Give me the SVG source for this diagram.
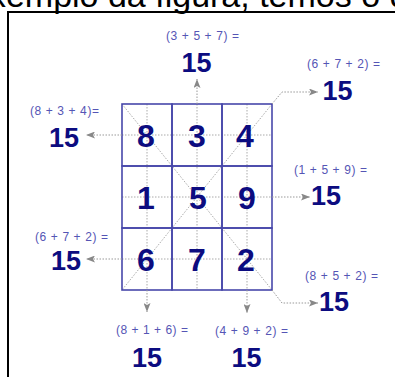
<svg xmlns="http://www.w3.org/2000/svg" width="395" height="377" viewBox="0 0 395 377">
<defs>
<marker id="ah" markerUnits="userSpaceOnUse" viewBox="0 0 9 7" refX="9" refY="3.5" markerWidth="9" markerHeight="7" orient="auto">
<path d="M0,0 L9,3.5 L0,7 L2,3.5 z" fill="#888"/>
</marker>
<style>
.bg{fill:#fff}
.frame{fill:none;stroke:#000;stroke-width:2}
.cell{fill:none;stroke:#4848aa;stroke-width:1.6}
.dot{fill:none;stroke:#aaa;stroke-width:1;stroke-dasharray:1.5 1.5}
.arr{fill:none;stroke:#999;stroke-width:1;stroke-dasharray:1.5 1.5;marker-end:url(#ah)}
.num{font-family:"Liberation Sans",Arial,sans-serif;font-weight:bold;font-size:32px;fill:#0c0c80;text-anchor:middle}
.tot{font-family:"Liberation Sans",Arial,sans-serif;font-weight:bold;font-size:27px;fill:#0c0c80;text-anchor:middle}
.sum{font-family:"Liberation Sans",Arial,sans-serif;font-size:12px;fill:#5555b5}
.top{font-family:"Liberation Sans",Arial,sans-serif;font-size:34px;fill:#000}
</style>
</defs>
<rect class="bg" x="0" y="0" width="395" height="377"/>
<text class="top" x="-30" y="7">exemplo da figura, temos o q</text>
<path class="frame" d="M8,380 V12 H400"/>

<g id="guides">
<path class="dot" d="M147,104 V290 M197,104 V290 M247,104 V290 M122,135 H272 M122,197 H272 M122,259 H272 M122,104 L272,290 M272,104 L122,290"/>
</g>

<g id="cells">
<g id="c8"><rect class="cell" x="122" y="104" width="50" height="62"/><text class="num" x="146" y="147">8</text></g>
<g id="c3"><rect class="cell" x="172" y="104" width="50" height="62"/><text class="num" x="197" y="147">3</text></g>
<g id="c4"><rect class="cell" x="222" y="104" width="50" height="62"/><text class="num" x="245" y="147">4</text></g>
<g id="c1"><rect class="cell" x="122" y="166" width="50" height="62"/><text class="num" x="146" y="209">1</text></g>
<g id="c5"><rect class="cell" x="172" y="166" width="50" height="62"/><text class="num" x="198" y="209">5</text></g>
<g id="c9"><rect class="cell" x="222" y="166" width="50" height="62"/><text class="num" x="247" y="209">9</text></g>
<g id="c6"><rect class="cell" x="122" y="228" width="50" height="62"/><text class="num" x="146" y="271">6</text></g>
<g id="c7"><rect class="cell" x="172" y="228" width="50" height="62"/><text class="num" x="197" y="271">7</text></g>
<g id="c2"><rect class="cell" x="222" y="228" width="50" height="62"/><text class="num" x="246" y="271">2</text></g>
</g>

<g id="connectors">
<path class="arr" d="M197,104 V79"/>
<path class="arr" d="M122,135 H86"/>
<path class="arr" d="M272,197 H310"/>
<path class="arr" d="M122,259 H86"/>
<path class="arr" d="M147,290 V312"/>
<path class="arr" d="M247,290 V313"/>
<path class="arr" d="M272,104 L282,92 H318"/>
<path class="arr" d="M272,290 L282,303 H318"/>
</g>

<g id="l-top"><text class="sum" x="166" y="39.5" textLength="73" lengthAdjust="spacing">(3 + 5 + 7) =</text><text class="tot" x="196.5" y="72">15</text></g>
<g id="l-diag1"><text class="sum" x="307" y="68" textLength="73" lengthAdjust="spacing">(6 + 7 + 2) =</text><text class="tot" x="337.5" y="100">15</text></g>
<g id="l-row1"><text class="sum" x="30" y="114.5" textLength="69" lengthAdjust="spacing">(8 + 3 + 4)=</text><text class="tot" x="64" y="147">15</text></g>
<g id="l-row2"><text class="sum" x="294" y="174" textLength="73" lengthAdjust="spacing">(1 + 5 + 9) =</text><text class="tot" x="326" y="205">15</text></g>
<g id="l-row3"><text class="sum" x="35" y="241" textLength="73" lengthAdjust="spacing">(6 + 7 + 2) =</text><text class="tot" x="66" y="270">15</text></g>
<g id="l-diag2"><text class="sum" x="305" y="280" textLength="73" lengthAdjust="spacing">(8 + 5 + 2) =</text><text class="tot" x="334" y="311">15</text></g>
<g id="l-col1"><text class="sum" x="116" y="334" textLength="72" lengthAdjust="spacing">(8 + 1 + 6) =</text><text class="tot" x="147" y="367">15</text></g>
<g id="l-col3"><text class="sum" x="215" y="334.5" textLength="73" lengthAdjust="spacing">(4 + 9 + 2) =</text><text class="tot" x="246.5" y="367">15</text></g>
</svg>
